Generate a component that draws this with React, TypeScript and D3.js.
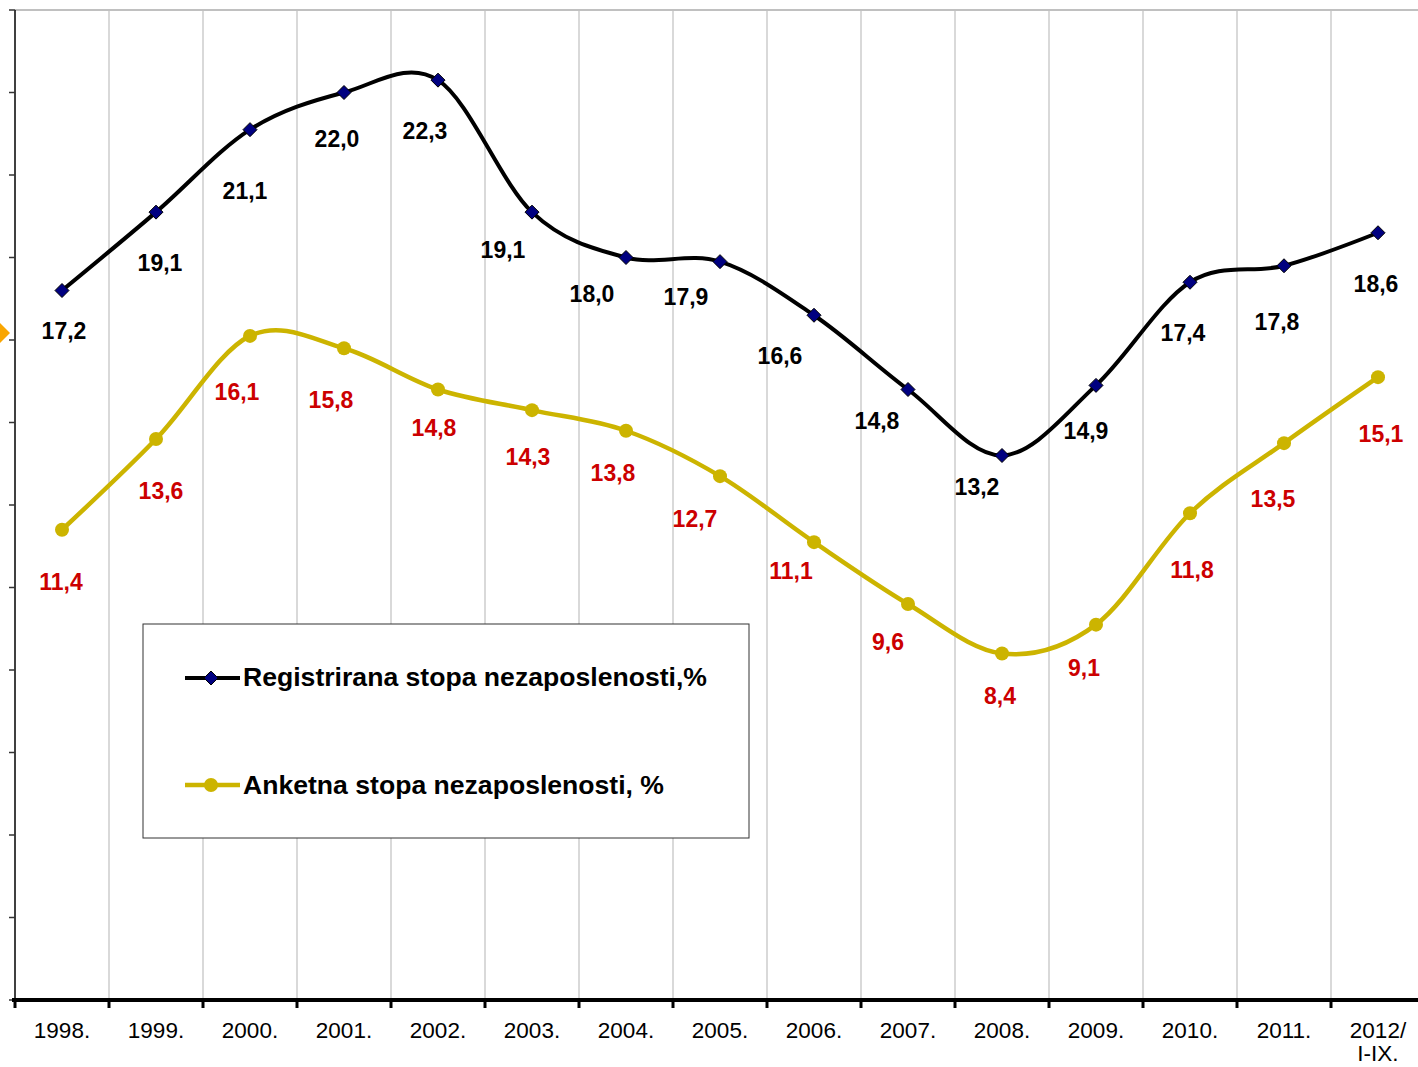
import React from "react";
import * as d3 from "d3";

const years = ["1998.", "1999.", "2000.", "2001.", "2002.", "2003.", "2004.", "2005.", "2006.", "2007.", "2008.", "2009.", "2010.", "2011.", "2012/\nI-IX."];
const registered = [17.2, 19.1, 21.1, 22.0, 22.3, 19.1, 18.0, 17.9, 16.6, 14.8, 13.2, 14.9, 17.4, 17.8, 18.6];
const survey = [11.4, 13.6, 16.1, 15.8, 14.8, 14.3, 13.8, 12.7, 11.1, 9.6, 8.4, 9.1, 11.8, 13.5, 15.1];
const yTicks = [0, 2, 4, 6, 8, 10, 12, 14, 16, 18, 20, 22, 24];
const seriesNames = ["Registrirana stopa nezaposlenosti,%", "Anketna stopa nezaposlenosti, %"];

// label placement offsets (layout only, px relative to point)
const regLabelOffsets: [number, number][] = [
  [2, 40], [4, 51], [-5, 61], [-7, 46], [-13, 51], [-29, 38], [-34, 36], [-34, 35],
  [-34, 41], [-31, 31], [-25, 31], [-10, 46], [-7, 51], [-7, 56], [-2, 51],
];
const surLabelOffsets: [number, number][] = [
  [-1, 52], [5, 52], [-13, 56], [-13, 52], [-4, 38], [-4, 47], [-13, 42], [-25, 43],
  [-23, 29], [-20, 38], [-2, 42], [-12, 43], [2, 57], [-11, 56], [3, 57],
];

const W = 1418;
const H = 1067;
const left = 15;
const bandW = 94;
const top = 10;
const bottom = 1000;

const fmt = (v: number) => v.toFixed(1).replace(".", ",");

export default function App() {
  const x = d3.scaleBand<string>().domain(years).range([left, left + bandW * years.length]).padding(0);
  const y = d3.scaleLinear().domain([0, 24]).range([bottom, top]);
  const cx = (i: number) => (x(years[i]) as number) + x.bandwidth() / 2;

  const line = d3
    .line<number>()
    .x((_, i) => cx(i))
    .y((d) => y(d))
    .curve(d3.curveCardinal.tension(0));

  const black = "#000000";
  const yellow = "#ccb400";
  const red = "#cc0000";
  const navy = "#000080";
  const font = "Liberation Sans, Arial, sans-serif";

  const diamond = (px: number, py: number, r = 7) =>
    `M${px},${py - r}L${px + r},${py}L${px},${py + r}L${px - r},${py}Z`;

  const boundaries = d3.range(years.length + 1).map((i) => left + i * bandW);

  return (
    <svg width={W} height={H} style={{ position: "absolute", left: 0, top: 0, background: "#fff" }} fontFamily={font}>
      <rect x={0} y={0} width={W} height={H} fill="#fff" />
      {/* gridlines */}
      {boundaries.slice(1).map((bx, i) => (
        <line key={"g" + i} x1={bx} x2={bx} y1={top} y2={bottom} stroke="#d9d9d9" strokeWidth={2} />
      ))}
      {/* top border */}
      <line x1={left} x2={W} y1={top} y2={top} stroke="#c0c0c0" strokeWidth={2} />
      {/* y axis */}
      <line x1={left} x2={left} y1={top} y2={bottom} stroke="#000" strokeWidth={1.5} />
      {yTicks.map((t) => (
        <line key={"yt" + t} x1={left - 6} x2={left} y1={y(t)} y2={y(t)} stroke="#333" strokeWidth={1.5} />
      ))}
      {/* orange marker at left */}
      <path d="M0,323L10,333L0,343Z" fill="#f9a602" />
      {/* x axis */}
      <line x1={left - 3} x2={W} y1={bottom} y2={bottom} stroke="#000" strokeWidth={4} />
      {boundaries.map((bx, i) => (
        <line key={"xt" + i} x1={bx} x2={bx} y1={bottom} y2={bottom + 8} stroke="#000" strokeWidth={3} />
      ))}
      {years.map((yr, i) =>
        yr.split("\n").map((ln, j) => (
          <text key={"xl" + i + "_" + j} x={cx(i)} y={bottom + 38 + j * 23} textAnchor="middle" fontSize={22.5} fill="#000">
            {ln}
          </text>
        ))
      )}
      {/* lines */}
      <path d={line(survey) || ""} fill="none" stroke={yellow} strokeWidth={4.5} />
      <path d={line(registered) || ""} fill="none" stroke={black} strokeWidth={4} />
      {survey.map((v, i) => (
        <circle key={"sc" + i} cx={cx(i)} cy={y(v)} r={7} fill={yellow} />
      ))}
      {registered.map((v, i) => (
        <path key={"rd" + i} d={diamond(cx(i), y(v))} fill={navy} stroke="#000" strokeWidth={1} />
      ))}
      {/* data labels */}
      {registered.map((v, i) => (
        <text key={"rl" + i} x={cx(i) + regLabelOffsets[i][0]} y={y(v) + regLabelOffsets[i][1] + 8} textAnchor="middle" fontSize={23} fontWeight="bold" fill={black}>
          {fmt(v)}
        </text>
      ))}
      {survey.map((v, i) => (
        <text key={"sl" + i} x={cx(i) + surLabelOffsets[i][0]} y={y(v) + surLabelOffsets[i][1] + 8} textAnchor="middle" fontSize={23} fontWeight="bold" fill={red}>
          {fmt(v)}
        </text>
      ))}
      {/* legend */}
      <rect x={143} y={624} width={606} height={214} fill="#fff" stroke="#333" strokeWidth={1} />
      <line x1={185} x2={240} y1={678} y2={678} stroke={black} strokeWidth={4} />
      <path d={diamond(211, 678)} fill={navy} stroke="#000" strokeWidth={1} />
      <text x={243} y={686} fontSize={26} fontWeight="bold" fill="#000" textLength={464} lengthAdjust="spacingAndGlyphs">
        {seriesNames[0]}
      </text>
      <line x1={185} x2={240} y1={785} y2={785} stroke={yellow} strokeWidth={4.5} />
      <circle cx={211} cy={785} r={7} fill={yellow} />
      <text x={243} y={794} fontSize={26} fontWeight="bold" fill="#000" textLength={421} lengthAdjust="spacingAndGlyphs">
        {seriesNames[1]}
      </text>
    </svg>
  );
}
